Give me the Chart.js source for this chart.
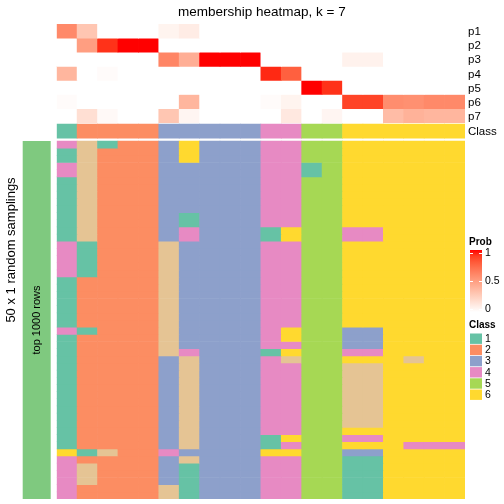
<!DOCTYPE html>
<html><head><meta charset="utf-8">
<script src="https://cdn.jsdelivr.net/npm/chart.js@4/dist/chart.umd.min.js"></script>
<style>html,body{margin:0;padding:0;background:#fff;}#wrap{width:504px;height:504px;position:relative;}</style>
</head><body><div id="wrap"><canvas id="c" width="504" height="504"></canvas></div>
<script>
// ---------- data ----------
const samples = ['s1','s2','s3','s4','s5','s6','s7','s8','s9','s10','s11','s12','s13','s14','s15','s16','s17','s18','s19','s20'];
const sampleClass = [1,2,2,2,2,3,3,3,3,3,4,4,5,5,6,6,6,6,6,6];
const probNames = ['p1','p2','p3','p4','p5','p6','p7'];
const p1 = [0.60,0.30,0,0,0,0.06,0.10,0,0,0,0,0,0,0,0,0,0,0,0,0];
const p2 = [0,0.50,0.93,1,1,0,0,0,0,0,0,0,0,0,0,0,0,0,0,0];
const p3 = [0,0,0,0,0,0.62,0.42,1,1,1,0,0,0,0,0.07,0.07,0,0,0,0];
const p4 = [0.38,0,0.02,0,0,0,0,0,0,0,0.95,0.78,0,0,0,0,0,0,0,0];
const p5 = [0,0,0,0,0,0,0,0,0,0,0,0,1,0.93,0,0,0,0,0,0];
const p6 = [0.02,0,0,0,0,0,0.38,0,0,0,0.02,0.06,0,0,0.88,0.88,0.58,0.57,0.60,0.60];
const p7 = [0,0.17,0.03,0,0,0.30,0.05,0,0,0,0,0.12,0,0.05,0,0,0.35,0.40,0.38,0.38];
const classLegend = [1,2,3,4,5,6];
const probTicks = [1,0.5,0];
// 50 random samplings, per sample column: runs of [class, number of consecutive rows]
const samplingRuns = [
  [[4,1],[1,2],[4,2],[1,9],[4,5],[1,7],[4,1],[1,16],[6,1],[4,6]],
  [[7,14],[1,5],[2,7],[1,1],[2,16],[1,1],[2,1],[7,3],[2,2]],
  [[1,1],[2,42],[7,1],[2,6]],
  [[2,50]],
  [[2,50]],
  [[3,14],[7,16],[3,13],[4,1],[3,4],[7,2]],
  [[6,3],[3,7],[1,2],[4,2],[3,15],[4,1],[7,13],[3,1],[7,1],[1,5]],
  [[3,50]],
  [[3,50]],
  [[3,50]],
  [[4,12],[1,2],[4,15],[1,1],[4,11],[1,2],[6,1],[4,6]],
  [[4,12],[6,2],[4,12],[6,2],[4,1],[6,1],[7,1],[4,10],[6,1],[4,1],[6,1],[4,6]],
  [[5,3],[1,2],[5,45]],
  [[5,50]],
  [[6,12],[4,2],[6,12],[3,3],[4,1],[6,1],[7,9],[6,1],[4,1],[6,1],[3,1],[1,6]],
  [[6,12],[4,2],[6,12],[3,3],[4,1],[6,1],[7,9],[6,1],[4,1],[6,1],[3,1],[1,6]],
  [[6,50]],
  [[6,30],[7,1],[6,11],[4,1],[6,7]],
  [[6,42],[4,1],[6,7]],
  [[6,42],[4,1],[6,7]]
];
const nSamplings = 50;

// ---------- styles ----------
const classColors = {1:'#66C2A5',2:'#FC8D62',3:'#8DA0CB',4:'#E78AC3',5:'#A6D854',6:'#FFD92F',7:'#E5C494'};
const FONT = '"Liberation Sans", Arial, Helvetica, sans-serif';

// white -> red in LAB space
function lin(c){c/=255;return c<=0.04045?c/12.92:Math.pow((c+0.055)/1.055,2.4);}
function delin(c){const v=c<=0.0031308?12.92*c:1.055*Math.pow(c,1/2.4)-0.055;return Math.round(Math.max(0,Math.min(1,v))*255);}
function rgb2lab(r,g,b){
  const R=lin(r),G=lin(g),B=lin(b);
  const X=(0.4124*R+0.3576*G+0.1805*B)/0.95047, Y=(0.2126*R+0.7152*G+0.0722*B), Z=(0.0193*R+0.1192*G+0.9505*B)/1.08883;
  const f=t=>t>0.008856?Math.cbrt(t):7.787*t+16/116;
  const fx=f(X),fy=f(Y),fz=f(Z);
  return [116*fy-16,500*(fx-fy),200*(fy-fz)];
}
function lab2rgb(L,a,b){
  const fy=(L+16)/116,fx=fy+a/500,fz=fy-b/200;
  const inv=f=>{const f3=f*f*f;return f3>0.008856?f3:(f-16/116)/7.787;};
  const X=inv(fx)*0.95047,Y=inv(fy),Z=inv(fz)*1.08883;
  const R=3.2406*X-1.5372*Y-0.4986*Z,G=-0.9689*X+1.8758*Y+0.0415*Z,B=0.0557*X-0.2040*Y+1.0570*Z;
  return [delin(R),delin(G),delin(B)];
}
const LW=rgb2lab(255,255,255), LR=rgb2lab(255,0,0);
function probColor(p){
  const L=LW[0]+(LR[0]-LW[0])*p,a=LW[1]+(LR[1]-LW[1])*p,b=LW[2]+(LR[2]-LW[2])*p;
  const c=lab2rgb(L,a,b);return `rgb(${c[0]},${c[1]},${c[2]})`;
}

// ---------- layout in y units ----------
const MROW = 1.97;           // membership row height
const CLASS_Y = [13.97, 15.93];
const BOT0 = 16.34;          // start of sampling heatmap
const YMAX = BOT0 + nSamplings;

const probRows = [p1,p2,p3,p4,p5,p6,p7];
const datasets = [];
probRows.forEach((row,k)=>{
  datasets.push({
    data: row.map(()=>[k*MROW,(k+1)*MROW]),
    backgroundColor: row.map(v=>probColor(v))
  });
});
datasets.push({
  data: sampleClass.map(()=>CLASS_Y.slice()),
  backgroundColor: sampleClass.map(c=>classColors[c])
});
// expand runs into a class matrix [row][col]
const matrix = [];
for(let r=0;r<nSamplings;r++) matrix.push([]);
samplingRuns.forEach((runs,col)=>{
  let r=0;
  runs.forEach(([cls,n])=>{for(let i=0;i<n;i++){ if(r<nSamplings) matrix[r][col]=cls; r++; }});
});
matrix.forEach((row,r)=>{
  datasets.push({
    data: samples.map(()=>[BOT0+r,BOT0+r+1]),
    backgroundColor: row.map(c=>classColors[c])
  });
});
datasets.forEach(d=>{Object.assign(d,{barPercentage:1,categoryPercentage:1,grouped:false,borderWidth:0,borderSkipped:false});});

const decor = {
  id:'decor',
  afterDraw(chart){
    const ctx=chart.ctx, y=chart.scales.y, area=chart.chartArea;
    ctx.save();
    // title
    ctx.fillStyle='#000';
    ctx.font=`13.5px ${FONT}`;
    ctx.textAlign='center';ctx.textBaseline='middle';
    ctx.fillText('membership heatmap, k = 7',(area.left+area.right)/2+1,12);
    // right labels
    ctx.font=`11.5px ${FONT}`;
    ctx.textAlign='left';
    probNames.forEach((n,k)=>{
      ctx.fillText(n,area.right+3,(y.getPixelForValue(k*MROW)+y.getPixelForValue((k+1)*MROW))/2+1);
    });
    ctx.fillText('Class',area.right+3,(y.getPixelForValue(CLASS_Y[0])+y.getPixelForValue(CLASS_Y[1]))/2+1);
    // left annotation bar
    const top=y.getPixelForValue(BOT0), bot=y.getPixelForValue(YMAX);
    ctx.fillStyle='#7FC97F';
    ctx.fillRect(22.7,top,28,bot-top);
    ctx.fillStyle='#000';
    ctx.save();
    ctx.translate(37,(top+bot)/2);ctx.rotate(-Math.PI/2);
    ctx.font=`11px ${FONT}`;ctx.textAlign='center';ctx.textBaseline='middle';
    ctx.fillText('top 1000 rows',0,0);
    ctx.restore();
    ctx.save();
    ctx.translate(11.5,250);ctx.rotate(-Math.PI/2);
    ctx.font=`13px ${FONT}`;ctx.textAlign='center';ctx.textBaseline='middle';
    ctx.fillText('50 x 1 random samplings',0,0);
    ctx.restore();
    // Prob legend
    const lx=470, gTop=250, gBot=312;
    ctx.font=`bold 10px ${FONT}`;ctx.textAlign='left';ctx.textBaseline='middle';
    ctx.fillText('Prob',lx-1,242);
    const grad=ctx.createLinearGradient(0,gTop,0,gBot);
    for(let i=0;i<=10;i++){grad.addColorStop(i/10,probColor(1-i/10));}
    ctx.fillStyle=grad;ctx.fillRect(lx,gTop,12,gBot-gTop);
    const tickY=v=>gTop+3+(1-v)*(gBot-gTop-6);
    ctx.strokeStyle='#fff';ctx.lineWidth=1;
    probTicks.forEach(v=>{
      const ty=Math.round(tickY(v))+0.5;
      ctx.beginPath();ctx.moveTo(lx,ty);ctx.lineTo(lx+3,ty);ctx.moveTo(lx+9,ty);ctx.lineTo(lx+12,ty);ctx.stroke();
    });
    ctx.fillStyle='#000';ctx.font=`10.5px ${FONT}`;
    probTicks.forEach(v=>{ctx.fillText(String(v),lx+15,tickY(v));});
    // Class legend
    ctx.font=`bold 10px ${FONT}`;
    ctx.fillText('Class',lx-1,325);
    ctx.font=`10.5px ${FONT}`;
    classLegend.forEach((c,i)=>{
      const sy=333.5+i*11.2;
      ctx.fillStyle=classColors[c];ctx.fillRect(lx,sy,12,10.4);
      ctx.fillStyle='#000';ctx.fillText(String(c),lx+15,sy+5.6);
    });
    ctx.restore();
  }
};

new Chart(document.getElementById('c'),{
  type:'bar',
  data:{labels:samples,datasets},
  options:{
    responsive:false,animation:false,devicePixelRatio:1,
    layout:{padding:{left:56.7,right:39,top:24,bottom:5}},
    plugins:{legend:{display:false},tooltip:{enabled:false},title:{display:false}},
    scales:{
      x:{type:'category',display:false,offset:true,grid:{display:false}},
      y:{type:'linear',display:false,min:0,max:YMAX,reverse:true,grid:{display:false}}
    }
  },
  plugins:[decor]
});
</script></body></html>
